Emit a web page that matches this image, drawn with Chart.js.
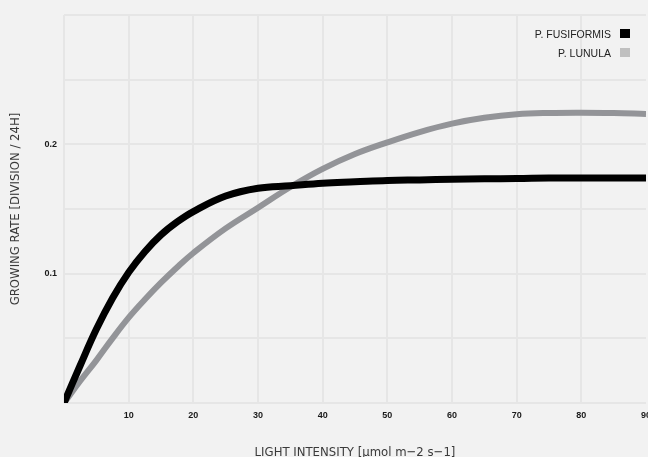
<!DOCTYPE html>
<html>
<head>
<meta charset="utf-8">
<script src="https://cdn.jsdelivr.net/npm/chart.js@4.4.1/dist/chart.umd.min.js"></script>
<style>
  html, body { margin: 0; padding: 0; background: #f2f2f2; overflow: hidden; }
  #wrap { position: relative; width: 648px; height: 457px; overflow: hidden; }
  #growthChart { position: absolute; left: 0; top: 0; }
  #legend {
    position: absolute; top: 24px; left: 400px; width: 230px;
    font: 10.5px 'Liberation Sans', Arial, sans-serif; color: #222;
  }
  #legend .row { display: flex; justify-content: flex-end; align-items: center; height: 19px; }
  #legend .box { width: 10px; height: 9px; margin-left: 9px; }
</style>
</head>
<body>
<div id="wrap">
  <canvas id="growthChart" width="658" height="457"></canvas>
  <div id="legend"></div>
</div>
<script>
// Growing rate vs light intensity for two strains
const lightIntensity = [0, 2.5, 5, 7.5, 10, 12.5, 15, 17.5, 20, 25, 30, 35, 40, 45, 50, 55, 60, 65, 70, 75, 80, 85, 90];
const fusiformisRate = [0, 0.029, 0.057, 0.081, 0.101, 0.117, 0.130, 0.140, 0.148, 0.160, 0.166, 0.168, 0.170, 0.171, 0.172, 0.1725, 0.173, 0.1733, 0.1735, 0.174, 0.174, 0.174, 0.174];
const lunulaRate = [0, 0.017, 0.033, 0.050, 0.066, 0.080, 0.093, 0.105, 0.116, 0.135, 0.151, 0.167, 0.181, 0.1925, 0.2015, 0.2095, 0.216, 0.2205, 0.2233, 0.2243, 0.2245, 0.2242, 0.2235];
const seriesNames = ['P. FUSIFORMIS', 'P. LUNULA'];
const yLabeledTicks = [0.1, 0.2];

(function () {
  function points(values) {
    return lightIntensity.map((x, i) => ({ x: x, y: values[i] }));
  }

  function init() {
    const Chart = window.Chart;
    const canvas = document.getElementById('growthChart');
    if (!Chart || !canvas) return;
    const ctx = canvas.getContext('2d');

    const colors = ['#000000', '#939498'];
    const legendColors = ['#000000', '#c0c0c0'];

    const tickFont = { family: "'Liberation Sans', Arial, sans-serif", size: 9, weight: 'bold' };
    const titleFamily = "'Liberation Sans Narrow', 'DejaVu Sans Condensed', 'Roboto', sans-serif";

    // eslint-disable-next-line no-new
    new Chart(ctx, {
      type: 'line',
      data: {
        datasets: [
          {
            label: seriesNames[0],
            data: points(fusiformisRate),
            borderColor: colors[0],
            borderWidth: 7,
            pointRadius: 0,
            tension: 0.4
          },
          {
            label: seriesNames[1],
            data: points(lunulaRate),
            borderColor: colors[1],
            borderWidth: 6,
            pointRadius: 0,
            tension: 0.4
          }
        ]
      },
      options: {
        responsive: false,
        animation: false,
        layout: { padding: { top: 15, right: 0, left: 0, bottom: 0 } },
        plugins: {
          legend: { display: false },
          tooltip: { enabled: false }
        },
        scales: {
          x: {
            type: 'linear',
            min: 0,
            max: 90,
            border: { display: false },
            grid: {
              color: (c) => (c.tick && c.tick.value === 90 ? 'rgba(0,0,0,0)' : '#e6e6e6'),
              lineWidth: 2,
              drawTicks: false
            },
            ticks: {
              stepSize: 10,
              padding: 7,
              color: '#1a1a1a',
              font: tickFont,
              maxRotation: 0,
              callback: (v) => (v === 0 ? '' : String(v))
            },
            title: {
              display: true,
              text: 'LIGHT INTENSITY [μmol m−2 s−1]',
              color: '#3a3a3a',
              font: { family: titleFamily, size: 13, lineHeight: 0.65 },
              padding: 0
            },
            afterFit: (scale) => { scale.height = 54; }
          },
          y: {
            min: 0,
            max: 0.3,
            border: { display: false },
            grid: { color: '#e6e6e6', lineWidth: 2, drawTicks: false },
            ticks: {
              stepSize: 0.05,
              padding: 7,
              color: '#1a1a1a',
              font: tickFont,
              callback: (v) => {
                const hit = yLabeledTicks.find((t) => Math.abs(t - v) < 1e-9);
                return hit === undefined ? '' : hit.toFixed(1);
              }
            },
            title: {
              display: true,
              text: 'GROWING RATE [DIVISION / 24H]',
              color: '#3a3a3a',
              font: { family: titleFamily, size: 13, lineHeight: 1.2 },
              padding: { top: 8, bottom: 0 }
            },
            afterFit: (scale) => { scale.width = 64; }
          }
        }
      }
    });

    // html legend, text left of the swatch
    const legend = document.getElementById('legend');
    seriesNames.forEach((name, i) => {
      const row = document.createElement('div');
      row.className = 'row';
      const label = document.createElement('span');
      label.textContent = name;
      const box = document.createElement('span');
      box.className = 'box';
      box.style.background = legendColors[i];
      row.appendChild(label);
      row.appendChild(box);
      legend.appendChild(row);
    });
  }

  if (document.readyState === 'loading') {
    document.addEventListener('DOMContentLoaded', init);
  } else {
    init();
  }
})();
</script>
</body>
</html>
